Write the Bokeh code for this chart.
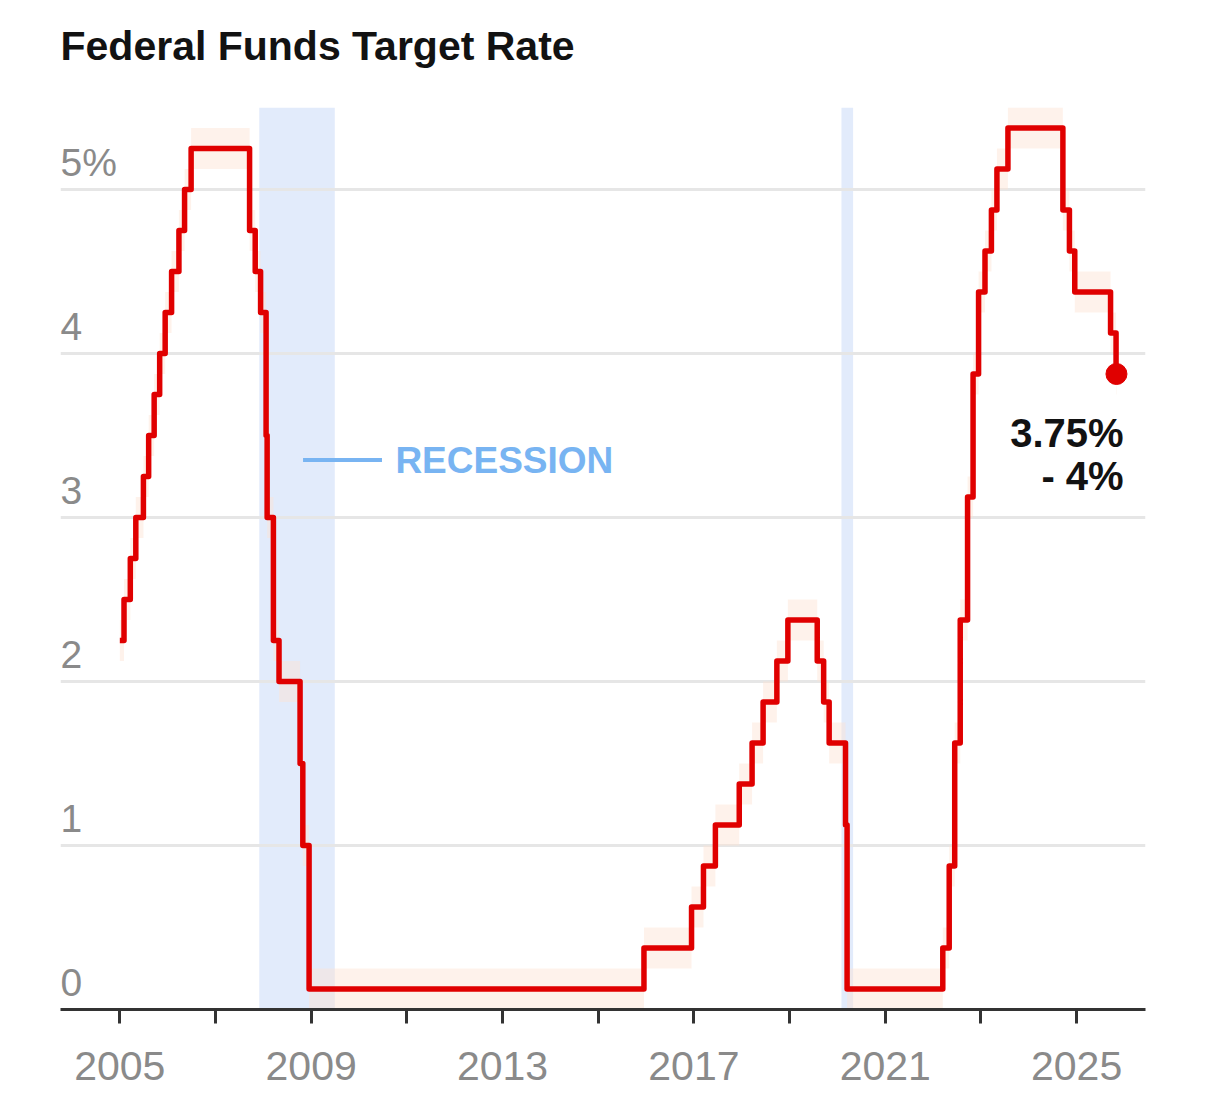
import pandas as pd
from bokeh.plotting import figure
from bokeh.models import Range1d, FixedTicker, Title
from bokeh.core.properties import value
from bokeh.embed import file_html
from bokeh.resources import INLINE

# ---- data -------------------------------------------------------------
change_dates = [
    "2005-01-01", "2005-02-02", "2005-03-22", "2005-05-03", "2005-06-30",
    "2005-08-09", "2005-09-20", "2005-11-01", "2005-12-13", "2006-01-31",
    "2006-03-28", "2006-05-10", "2006-06-29", "2007-09-18", "2007-10-31",
    "2007-12-11", "2008-01-22", "2008-01-30", "2008-03-18", "2008-04-30",
    "2008-10-08", "2008-10-29", "2008-12-16", "2015-12-16", "2016-12-14",
    "2017-03-15", "2017-06-14", "2017-12-13", "2018-03-21", "2018-06-13",
    "2018-09-26", "2018-12-19", "2019-07-31", "2019-09-18", "2019-10-30",
    "2020-03-03", "2020-03-15", "2022-03-16", "2022-05-04", "2022-06-15",
    "2022-07-27", "2022-09-21", "2022-11-02", "2022-12-14", "2023-02-01",
    "2023-03-22", "2023-05-03", "2023-07-26", "2024-09-18", "2024-11-07",
    "2024-12-18", "2025-09-17", "2025-10-29", "2025-11-01",
]
target_rate = [
    2.25, 2.50, 2.75, 3.00, 3.25,
    3.50, 3.75, 4.00, 4.25, 4.50,
    4.75, 5.00, 5.25, 4.75, 4.50,
    4.25, 3.50, 3.00, 2.25, 2.00,
    1.50, 1.00, 0.125, 0.375, 0.625,
    0.875, 1.125, 1.375, 1.625, 1.875,
    2.125, 2.375, 2.125, 1.875, 1.625,
    1.125, 0.125, 0.375, 0.875, 1.625,
    2.375, 3.125, 3.875, 4.375, 4.625,
    4.875, 5.125, 5.375, 4.875, 4.625,
    4.375, 4.125, 3.875, 3.875,
]
band_half_width = 0.125

recession_starts = ["2007-12-01", "2020-02-01"]
recession_ends = ["2009-06-30", "2020-04-30"]

x_tick_years = list(range(2005, 2026, 2))
x_label_years = [2005, 2009, 2013, 2017, 2021, 2025]
y_tick_values = [0, 1, 2, 3, 4, 5]
y_tick_labels = ["0", "1", "2", "3", "4", "5%"]

title_text = "Federal Funds Target Rate"
end_label_lines = ["3.75%", "- 4%"]

# ---- helpers ---------------------------------------------------------
def to_year(s):
    d = pd.Timestamp(s)
    a = pd.Timestamp(year=d.year, month=1, day=1)
    b = pd.Timestamp(year=d.year + 1, month=1, day=1)
    return d.year + (d - a) / (b - a)

xs = [to_year(d) for d in change_dates]
lo = [r - band_half_width for r in target_rate]
hi = [r + band_half_width for r in target_rate]
rec_l = [to_year(d) for d in recession_starts]
rec_r = [to_year(d) for d in recession_ends]

X0, X1 = 2003.76, 2026.44
Y0, Y1 = 0.0, 5.5

RED = "#e00000"
BLUE_TXT = "#78b4f2"
GREY = "#8a8a8a"
FONT = "Liberation Sans"

p = figure(width=1190, height=1100,
           x_range=Range1d(X0, X1), y_range=Range1d(Y0, Y1),
           output_backend="svg", toolbar_location=None,
           min_border_left=60, min_border_right=45,
           min_border_top=107, min_border_bottom=91)
p.outline_line_color = None
p.background_fill_color = "white"
p.border_fill_color = "white"
p.title = None

# spacer panel between frame and title, then the title itself
p.add_layout(Title(text=" ", text_font_size="10px", standoff=26), "above")
p.add_layout(Title(text=title_text, text_font=FONT, text_font_style="bold",
                   text_font_size="41px", text_color="#121212", align="left",
                   vertical_align="bottom", standoff=0), "above")

# recession bands (beneath grid)
p.quad(left=rec_l, right=rec_r, bottom=[Y0] * len(rec_l), top=[Y1] * len(rec_l),
       fill_color="#e2ebfb", line_color=None, level="image")

# grid
p.xgrid.visible = False
p.ygrid.ticker = FixedTicker(ticks=y_tick_values[1:])
p.ygrid.grid_line_color = "#e6e6e6"
p.ygrid.grid_line_width = 3

# y axis hidden, labels drawn above gridlines
p.yaxis.visible = False
p.text(x=[X0] * len(y_tick_values), y=y_tick_values, text=y_tick_labels,
       text_font=value(FONT), text_font_size="39px", text_color=GREY,
       text_baseline="alphabetic", text_align="left", y_offset=-27)

# x axis
xa = p.xaxis[0]
xa.ticker = FixedTicker(ticks=x_tick_years)
xa.major_label_overrides = {y: (str(y) if y in x_label_years else "") for y in x_tick_years}
xa.major_label_text_font = FONT
xa.major_label_text_font_size = "41px"
xa.major_label_text_color = GREY
xa.major_label_standoff = 28
xa.major_tick_in = 0
xa.major_tick_out = 14
xa.major_tick_line_width = 3
xa.major_tick_line_color = "#333333"
xa.minor_tick_line_color = None
xa.axis_line_width = 3
xa.axis_line_color = "#333333"

# faint target band
p.varea_step(x=xs, y1=lo, y2=hi, step_mode="after",
             fill_color="#fde3d2", fill_alpha=0.45)

# rate step line
p.step(x=xs, y=target_rate, mode="after", line_color=RED, line_width=5.5,
       line_join="round")
p.scatter(x=[xs[-1]], y=[target_rate[-1]], size=21, color=RED)

# end label
p.text(x=[xs[-1] + 0.15] * 2, y=[target_rate[-1]] * 2, text=end_label_lines,
       text_font=value(FONT), text_font_style="bold", text_font_size="40px",
       text_color="#121212", text_align="right", text_baseline="alphabetic",
       y_offset=[59, 102])

# recession legend
leg_y = 3.35
p.segment(x0=[2008.83], y0=[leg_y], x1=[2010.48], y1=[leg_y],
          line_color=BLUE_TXT, line_width=4)
p.text(x=[2010.76], y=[leg_y], text=["RECESSION"],
       text_font=value(FONT), text_font_style="bold", text_font_size="37px",
       text_color=BLUE_TXT, text_baseline="middle", text_align="left")

open("out.html", "w").write(file_html(p, INLINE))
